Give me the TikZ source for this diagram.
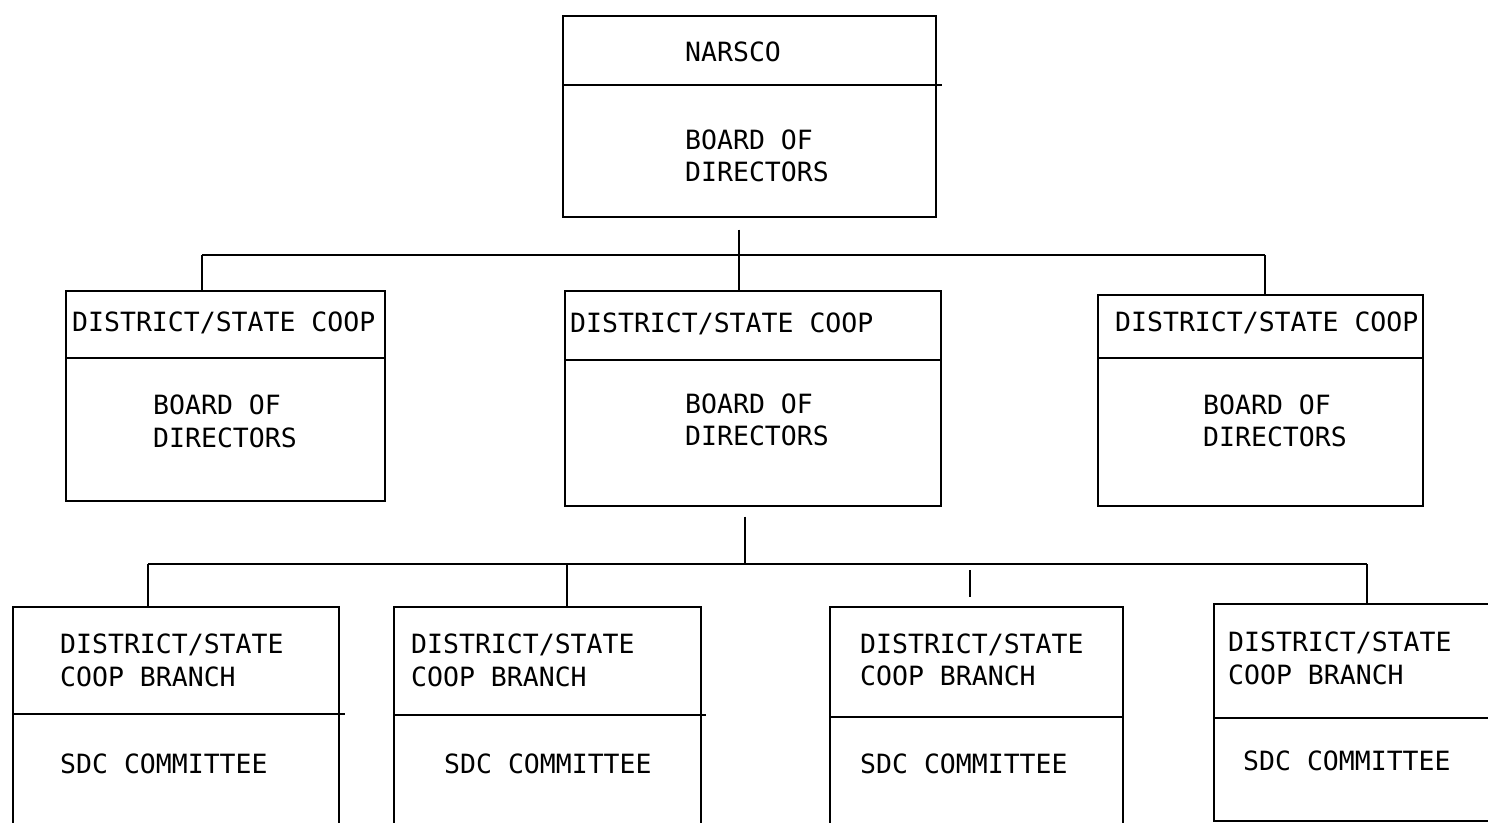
\documentclass[tikz,border=0pt]{standalone}
\usepackage{fontspec}
\newfontfamily\plotfont{DejaVu Sans Mono}
\begin{document}
\begin{tikzpicture}[x=1pt,y=-1pt,
  box/.style={draw, line width=1.7pt, inner sep=0pt, anchor=north west},
  rule/.style={line width=1.7pt},
  conn/.style={line width=1.7pt},
  lbl/.style={anchor=west, inner sep=0pt, font=\plotfont\fontsize{26.5}{30}\selectfont,
    text height=19.3pt, text depth=0pt}]
\useasboundingbox (0,0) rectangle (1488,822);
\clip (0,0) rectangle (1488,822);
\fill[white] (0,0) rectangle (1488,822);

% ---------- boxes ----------
\node[box, minimum width=373pt, minimum height=201pt] (t) at (562,15) {};
\node[box, minimum width=319pt, minimum height=210pt] (m1) at (65,290) {};
\node[box, minimum width=376pt, minimum height=215pt] (m2) at (564,290) {};
\node[box, minimum width=325pt, minimum height=211pt] (m3) at (1097,294) {};
\node[box, minimum width=326pt, minimum height=240pt] (b1) at (12,606) {};
\node[box, minimum width=307pt, minimum height=240pt] (b2) at (393,606) {};
\node[box, minimum width=293pt, minimum height=240pt] (b3) at (829,606) {};
\node[box, minimum width=320pt, minimum height=217pt] (b4) at (1213,603) {};

% ---------- dividers ----------
\draw[rule] ([yshift=-70pt]t.north west) -- ([yshift=-70pt,xshift=5pt]t.north east);
\draw[rule] ([yshift=-68pt]m1.north west) -- ([yshift=-68pt]m1.north east);
\draw[rule] ([yshift=-70pt]m2.north west) -- ([yshift=-70pt]m2.north east);
\draw[rule] ([yshift=-64pt]m3.north west) -- ([yshift=-64pt]m3.north east);
\draw[rule] ([yshift=-108pt]b1.north west) -- ([yshift=-108pt,xshift=5pt]b1.north east);
\draw[rule] ([yshift=-109pt]b2.north west) -- ([yshift=-109pt,xshift=4pt]b2.north east);
\draw[rule] ([yshift=-111pt]b3.north west) -- ([yshift=-111pt]b3.north east);
\draw[rule] ([yshift=-115pt]b4.north west) -- ([yshift=-115pt]b4.north east);

% ---------- connectors, level 1 ----------
\coordinate (j1) at (739,255);
\coordinate (d1) at (202,255);
\coordinate (d3) at (1265,255);
\draw[conn, shorten <=12pt] (t.south -| j1) -- (m2.north -| j1);
\draw[conn] (d1) -- (d3);
\draw[conn] (d1) -- (d1 |- m1.north);
\draw[conn] (d3) -- (d3 |- m3.north);

% ---------- connectors, level 2 ----------
\coordinate (j2) at (745,564);
\coordinate (e1) at (148,564);
\coordinate (e2) at (567,564);
\coordinate (e3) at (970,564);
\coordinate (e4) at (1367,564);
\draw[conn, shorten <=10pt] (m2.south -| j2) -- (j2);
\draw[conn] (e1) -- (e4);
\draw[conn] (e1) -- (e1 |- b1.north);
\draw[conn] (e2) -- (e2 |- b2.north);
\draw[conn, shorten <=6pt, shorten >=9pt] (e3) -- (e3 |- b3.north);
\draw[conn] (e4) -- (e4 |- b4.north);

% ---------- texts ----------
\node[lbl] (t1) at (685,52) {NARSCO};
\node[lbl] (t2) at (685,140) {BOARD OF};
\node[lbl] (t3) at (685,172) {DIRECTORS};

\node[lbl] (m1a) at (72,322) {DISTRICT/STATE COOP};
\node[lbl] (m1b) at (153,405) {BOARD OF};
\node[lbl] (m1c) at (153,438) {DIRECTORS};

\node[lbl] (m2a) at (570,323) {DISTRICT/STATE COOP};
\node[lbl] (m2b) at (685,404) {BOARD OF};
\node[lbl] (m2c) at (685,436) {DIRECTORS};

\node[lbl] (m3a) at (1115,322) {DISTRICT/STATE COOP};
\node[lbl] (m3b) at (1203,405) {BOARD OF};
\node[lbl] (m3c) at (1203,437) {DIRECTORS};

\node[lbl] (b1a) at (60,644) {DISTRICT/STATE};
\node[lbl] (b1b) at (60,677) {COOP BRANCH};
\node[lbl] (b1c) at (60,764) {SDC COMMITTEE};

\node[lbl] (b2a) at (411,644) {DISTRICT/STATE};
\node[lbl] (b2b) at (411,677) {COOP BRANCH};
\node[lbl] (b2c) at (444,764) {SDC COMMITTEE};

\node[lbl] (b3a) at (860,644) {DISTRICT/STATE};
\node[lbl] (b3b) at (860,676) {COOP BRANCH};
\node[lbl] (b3c) at (860,764) {SDC COMMITTEE};

\node[lbl] (b4a) at (1228,642) {DISTRICT/STATE};
\node[lbl] (b4b) at (1228,675) {COOP BRANCH};
\node[lbl] (b4c) at (1243,761) {SDC COMMITTEE};
\end{tikzpicture}
\end{document}
